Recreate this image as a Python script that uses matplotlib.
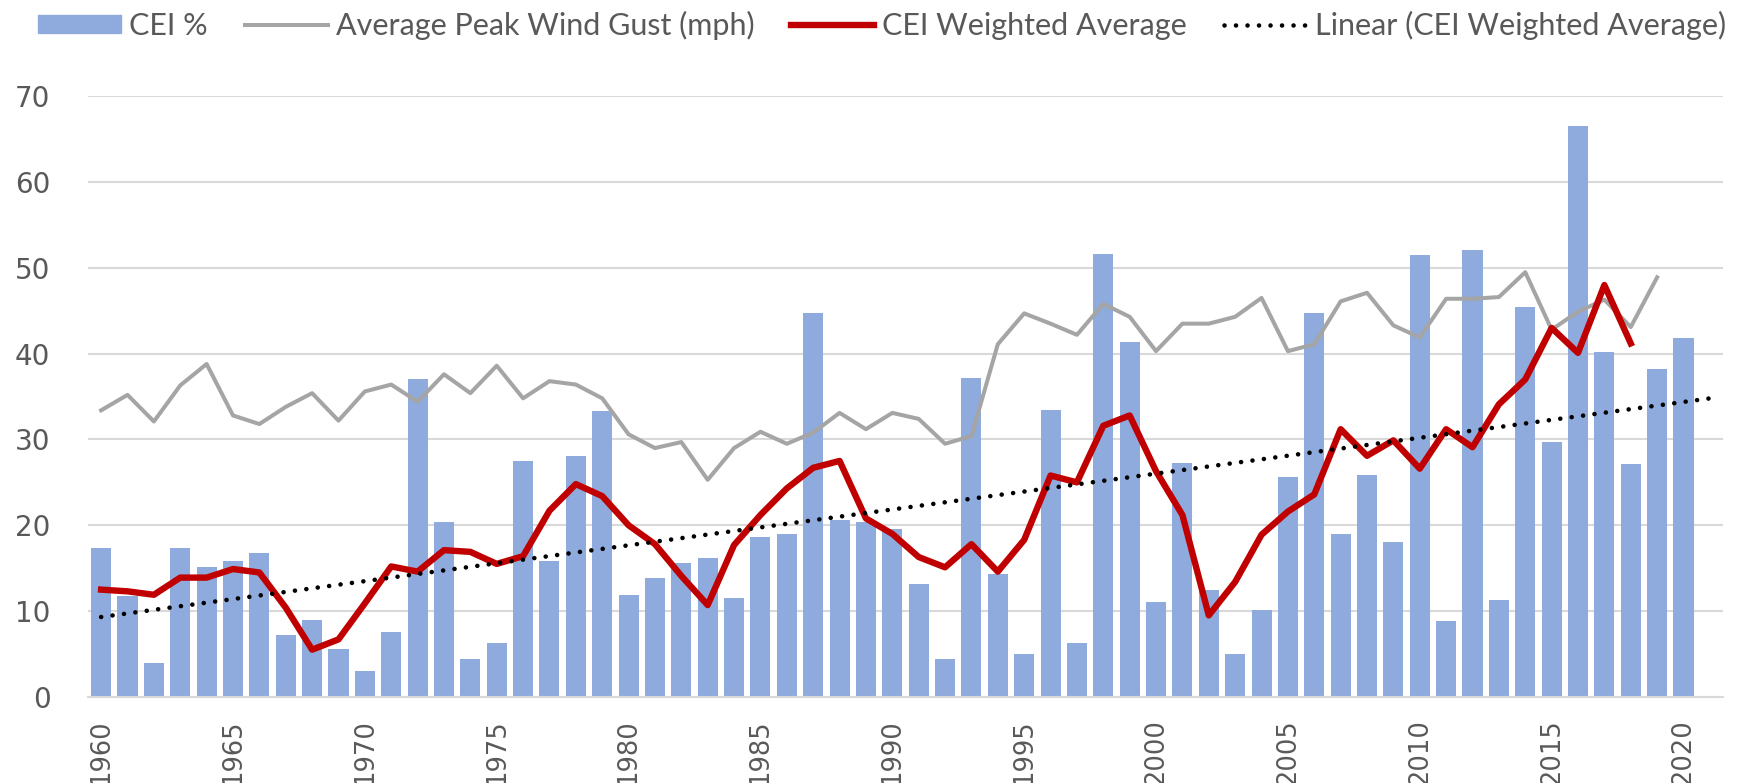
import numpy as np
import matplotlib.pyplot as plt
from matplotlib.lines import Line2D
from matplotlib.patches import Patch

# Valores
cei_years = list(range(1960, 2021))
cei_pct = [17.4, 11.8, 4.0, 17.4, 15.1, 15.8, 16.8, 7.2, 9.0, 5.6,
           3.0, 7.6, 37.0, 20.4, 4.4, 6.3, 27.5, 15.8, 28.1, 33.3,
           11.9, 13.9, 15.6, 16.2, 11.5, 18.6, 19.0, 44.8, 20.6, 20.4,
           19.6, 13.1, 4.4, 37.2, 14.3, 5.0, 33.4, 6.3, 51.6, 41.4,
           11.1, 27.3, 12.5, 5.0, 10.1, 25.6, 44.8, 19.0, 25.9, 18.1,
           51.5, 8.8, 52.1, 11.3, 45.4, 29.7, 66.5, 40.2, 27.2, 38.2,
           41.8]

gust_years = list(range(1960, 2020))
gust_mph = [33.4, 35.2, 32.1, 36.3, 38.8, 32.8, 31.8, 33.8, 35.4, 32.2,
            35.6, 36.4, 34.4, 37.6, 35.4, 38.6, 34.8, 36.8, 36.4, 34.8,
            30.6, 29.0, 29.7, 25.3, 29.0, 30.9, 29.5, 30.8, 33.1, 31.2,
            33.1, 32.4, 29.5, 30.4, 41.1, 44.7, 43.5, 42.2, 45.8, 44.3,
            40.3, 43.5, 43.5, 44.3, 46.5, 40.3, 41.1, 46.1, 47.1, 43.3,
            41.9, 46.4, 46.4, 46.6, 49.5, 42.8, 44.9, 46.3, 43.1, 48.9]

wavg_years = list(range(1960, 2019))
cei_wavg = [12.5, 12.3, 11.9, 13.9, 13.9, 14.9, 14.5, 10.4, 5.5, 6.7,
            10.9, 15.2, 14.6, 17.1, 16.9, 15.5, 16.4, 21.7, 24.8, 23.4,
            20.0, 17.8, 14.1, 10.7, 17.7, 21.2, 24.3, 26.7, 27.5, 20.8,
            19.0, 16.3, 15.1, 17.8, 14.6, 18.3, 25.8, 25.0, 31.6, 32.8,
            26.3, 21.2, 9.5, 13.4, 18.9, 21.6, 23.6, 31.2, 28.1, 29.9,
            26.6, 31.2, 29.1, 34.1, 37.0, 43.0, 40.1, 48.0, 41.2]

# eixo de categorias vai até 2021 (sem dados)
last_cat = 2021
xtick_years = list(range(1960, 2021, 5))
yticks = list(range(0, 71, 10))

c_bar = '#8FAADC'
c_gust = '#A5A5A5'
c_red = '#C00000'
c_text = '#595959'
c_grid = '#D9D9D9'
dots = (0, (0.01, 2.5))

plt.rcParams['font.family'] = ['DejaVu Sans']

fig = plt.figure(figsize=(17.38, 7.83), dpi=100)
ax = fig.add_axes([0.0506, 0.110, 0.9408, 0.767])

ax.bar(cei_years, cei_pct, width=0.76, color=c_bar, zorder=2)
ax.plot(gust_years, gust_mph, color=c_gust, lw=2.9, zorder=3)
ax.plot(wavg_years, cei_wavg, color=c_red, lw=4.6, zorder=4)

# linha de tendência linear (ajuste da média ponderada)
coef = np.polyfit(wavg_years, cei_wavg, 1)
tx = np.array([1960, last_cat])
ax.plot(tx, np.polyval(coef, tx), color='black', lw=3.3,
        linestyle=dots, dash_capstyle='round', zorder=5)

ax.set_xlim(1959.5, last_cat + 0.5)
ax.set_ylim(0, 70)
ax.set_yticks(yticks)
ax.set_xticks(xtick_years)
ax.set_xticklabels([str(y) for y in xtick_years], rotation=90)
ax.tick_params(axis='y', length=0, pad=27, labelsize=20, labelcolor=c_text)
ax.tick_params(axis='x', length=0, pad=16, labelsize=18.5, labelcolor=c_text)
ax.grid(axis='y', color=c_grid, lw=1.5, zorder=0)
for s in ['top', 'right', 'left']:
    ax.spines[s].set_visible(False)
ax.spines['bottom'].set_color(c_grid)
ax.spines['bottom'].set_linewidth(1.5)

handles = [
    Patch(color=c_bar),
    Line2D([], [], color=c_gust, lw=2.9),
    Line2D([], [], color=c_red, lw=4.6),
    Line2D([], [], color='black', lw=3.3, linestyle=dots, dash_capstyle='round'),
]
labels = ['CEI %', 'Average Peak Wind Gust (mph)', 'CEI Weighted Average',
          'Linear (CEI Weighted Average)']
fig.legend(handles, labels, loc='center', bbox_to_anchor=(0.5075, 0.968),
           ncol=4, frameon=False, handlelength=2.72, handleheight=0.52,
           handletextpad=0.26, columnspacing=1.21,
           prop={'family': ['Lato', 'DejaVu Sans'], 'size': 22},
           labelcolor=c_text)

fig.savefig('out.png', dpi=100)
